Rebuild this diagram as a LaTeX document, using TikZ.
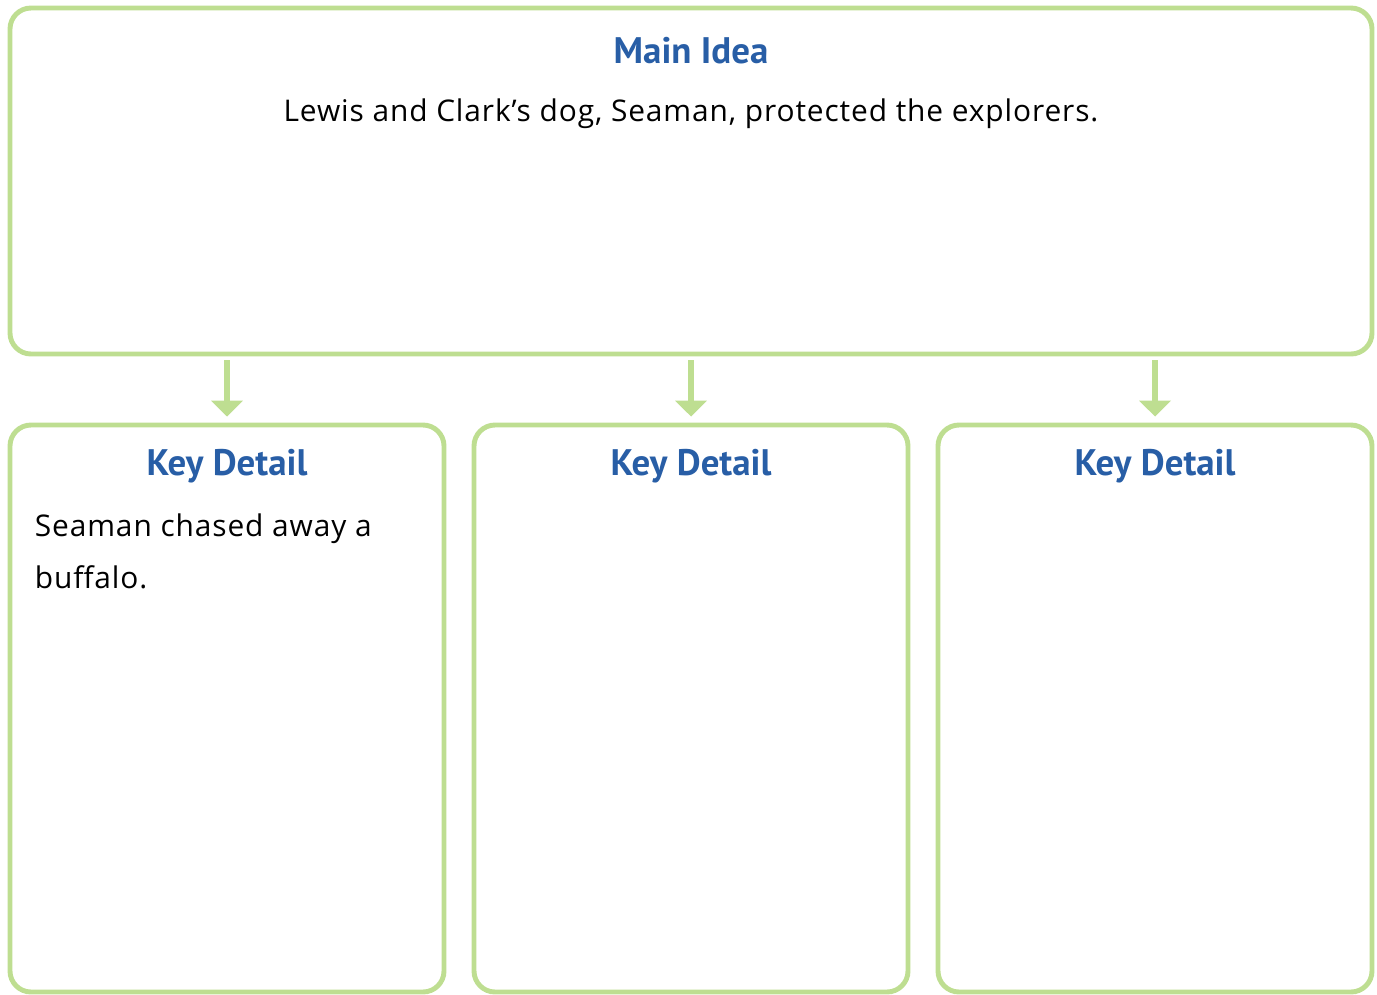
\documentclass[tikz,border=0pt]{standalone}
\usepackage{fontspec}
\setmainfont{PT Sans}
\newfontfamily\headfont{PT Sans}
\newfontfamily\handfont[LetterSpace=3]{Open Sans}
\usetikzlibrary{arrows.meta,positioning}
\definecolor{leafgreen}{RGB}{190,222,145}
\definecolor{titleblue}{RGB}{40,94,166}
\begin{document}
\begin{tikzpicture}[
	box/.style={draw=leafgreen, line width=2.8pt, rounded corners=0.42cm, inner sep=0pt},
	title/.style={text=titleblue, font=\headfont\bfseries\fontsize{21}{25}\selectfont},
	hand/.style={font=\handfont\fontsize{17}{29.6}\selectfont, inner sep=0pt},
	down/.style={draw=leafgreen, line width=3pt, -{Triangle[width=0.62cm,length=0.32cm]}},
]
	\useasboundingbox (0,0) rectangle (27.54,-19.88);
	% boxes
	\node[box, minimum width=27.24cm, minimum height=6.92cm] (main) at (13.82,-3.62) {};
	\node[box, minimum width=8.68cm, minimum height=11.34cm] (kd1) at (4.54,-14.17) {};
	\node[box, minimum width=8.68cm, minimum height=11.34cm] (kd2) at (13.82,-14.17) {};
	\node[box, minimum width=8.68cm, minimum height=11.34cm] (kd3) at (23.10,-14.17) {};
	% titles
	\node[title] (mainhead) at ([yshift=-0.9cm]main.north) {Main Idea};
	\node[title] (kdhead1) at ([yshift=-0.88cm]kd1.north) {Key Detail};
	\node[title] (kdhead2) at ([yshift=-0.88cm]kd2.north) {Key Detail};
	\node[title] (kdhead3) at ([yshift=-0.88cm]kd3.north) {Key Detail};
	% texts
	\node[hand] (maintext) at ([yshift=-2.16cm]main.north) {Lewis and Clark’s dog, Seaman, protected the explorers.};
	\node[hand, anchor=base west, align=left] (kdtext1) at ([xshift=0.54cm,yshift=-3.32cm]kd1.north west) {Seaman chased away a\\buffalo.};
	% arrows
	\draw[down, shorten <=0.08cm, shorten >=0.12cm] (main.south -| kd1.north) -- (kd1.north);
	\draw[down, shorten <=0.08cm, shorten >=0.12cm] (main.south -| kd2.north) -- (kd2.north);
	\draw[down, shorten <=0.08cm, shorten >=0.12cm] (main.south -| kd3.north) -- (kd3.north);
\end{tikzpicture}
\end{document}
